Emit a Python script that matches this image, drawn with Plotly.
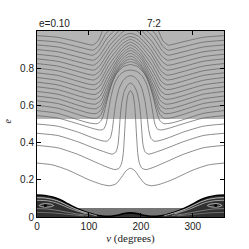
import plotly.graph_objects as go

# ---- axis ticks / annotations ----
nu_ticks = [0, 100, 200, 300]
nu_ticklabels = ["0", "100", "200", "300"]
e_ticks = [0, 0.2, 0.4, 0.6, 0.8]
e_ticklabels = ["0", "0.2", "0.4", "0.6", "0.8"]
label_ecc = "e=0.10"
label_res = "7:2"

# ---- shaded bands (eccentricity limits) ----
e_crossing = 0.527   # orbit-crossing limit (light band above)
e_lowband = 0.048    # low-e band (dark band below)

# ---- contour levels: half curves nu in [0,180] (symmetric about 180) ----
L1_nu = [0, 30, 60, 100, 125, 140, 152, 163, 172, 180]
L1_e = [0.29, 0.28, 0.252, 0.2, 0.175, 0.168, 0.178, 0.215, 0.25, 0.262]

L2_nu = [0, 40, 80, 110, 135, 150, 158, 163, 166, 168, 170, 172, 175, 180]
L2_e = [0.385, 0.372, 0.335, 0.298, 0.268, 0.255, 0.262, 0.29, 0.34, 0.42, 0.52, 0.6, 0.655, 0.68]

L3_nu = [0, 40, 80, 110, 132, 145, 152, 156, 158, 160, 163, 168, 174, 180]
L3_e = [0.45, 0.438, 0.403, 0.37, 0.348, 0.338, 0.35, 0.39, 0.45, 0.53, 0.61, 0.675, 0.708, 0.72]

L4_nu = [0, 40, 80, 105, 125, 135, 141, 145, 148, 152, 158, 166, 174, 180]
L4_e = [0.50, 0.488, 0.455, 0.428, 0.41, 0.408, 0.425, 0.47, 0.54, 0.62, 0.69, 0.735, 0.755, 0.76]

L5_nu = [0, 40, 80, 105, 120, 128, 133, 137, 142, 149, 158, 168, 180]
L5_e = [0.545, 0.532, 0.50, 0.478, 0.468, 0.472, 0.50, 0.56, 0.64, 0.715, 0.76, 0.783, 0.79]

L6_nu = [0, 40, 80, 100, 116, 124, 130, 136, 143, 153, 166, 180]
L6_e = [0.572, 0.557, 0.522, 0.506, 0.502, 0.52, 0.57, 0.64, 0.71, 0.77, 0.808, 0.82]

L7_nu = [0, 40, 80, 100, 115, 123, 131, 139, 147, 157, 169, 180]
L7_e = [0.600, 0.585, 0.550, 0.534, 0.531, 0.55, 0.605, 0.675, 0.74, 0.79, 0.825, 0.835]

L8_nu = [0, 40, 80, 100, 114, 123, 132, 141, 150, 160, 171, 180]
L8_e = [0.625, 0.610, 0.575, 0.559, 0.556, 0.575, 0.635, 0.705, 0.765, 0.81, 0.84, 0.85]

L9_nu = [0, 40, 80, 100, 113, 123, 133, 143, 153, 163, 173, 180]
L9_e = [0.650, 0.635, 0.600, 0.585, 0.582, 0.60, 0.665, 0.735, 0.79, 0.83, 0.857, 0.865]

L10_nu = [0, 40, 80, 100, 113, 123, 134, 145, 155, 165, 174, 180]
L10_e = [0.675, 0.660, 0.626, 0.610, 0.607, 0.627, 0.695, 0.762, 0.815, 0.852, 0.873, 0.88]

L11_nu = [0, 40, 80, 100, 112, 122, 135, 147, 157, 167, 175, 180]
L11_e = [0.70, 0.685, 0.651, 0.636, 0.633, 0.652, 0.725, 0.79, 0.84, 0.873, 0.89, 0.895]

L12_nu = [0, 40, 80, 100, 112, 122, 136, 149, 159, 169, 176, 180]
L12_e = [0.725, 0.710, 0.677, 0.662, 0.659, 0.678, 0.755, 0.818, 0.862, 0.892, 0.905, 0.91]

L13_nu = [0, 40, 80, 100, 111, 121, 137, 151, 161, 170, 177, 180]
L13_e = [0.75, 0.735, 0.703, 0.688, 0.685, 0.704, 0.785, 0.845, 0.885, 0.91, 0.922, 0.925]

L14_nu = [0, 40, 80, 100, 111, 121, 138, 152, 162, 171, 180]
L14_e = [0.775, 0.761, 0.729, 0.714, 0.711, 0.73, 0.815, 0.87, 0.905, 0.928, 0.94]

L15_nu = [0, 40, 80, 100, 110, 120, 139, 153, 163, 172, 180]
L15_e = [0.80, 0.786, 0.755, 0.740, 0.737, 0.756, 0.845, 0.895, 0.928, 0.946, 0.955]

L16_nu = [0, 40, 80, 100, 110, 120, 140, 154, 164, 173, 180]
L16_e = [0.825, 0.811, 0.781, 0.766, 0.763, 0.782, 0.873, 0.92, 0.95, 0.965, 0.97]

L17_nu = [0, 40, 80, 100, 110, 120, 141, 155, 165, 174, 180]
L17_e = [0.85, 0.837, 0.807, 0.793, 0.79, 0.81, 0.90, 0.945, 0.972, 0.984, 0.987]

L18_nu = [0, 40, 80, 100, 109, 119, 141, 154, 163, 168]
L18_e = [0.875, 0.862, 0.833, 0.819, 0.816, 0.836, 0.925, 0.965, 0.99, 1.0]

L19_nu = [0, 40, 80, 100, 109, 119, 139, 150, 157]
L19_e = [0.90, 0.888, 0.86, 0.846, 0.843, 0.863, 0.945, 0.978, 1.0]

L20_nu = [0, 40, 80, 100, 108, 118, 135, 144, 148]
L20_e = [0.925, 0.914, 0.887, 0.873, 0.87, 0.89, 0.962, 0.99, 1.0]

L21_nu = [0, 40, 80, 100, 108, 118, 131, 137]
L21_e = [0.95, 0.94, 0.914, 0.90, 0.897, 0.918, 0.98, 1.0]

L22_nu = [0, 40, 80, 100, 107, 117, 126]
L22_e = [0.975, 0.966, 0.941, 0.927, 0.924, 0.945, 1.0]

# ---- low-eccentricity structure (bottom) ----
bot_nu = [0, 15, 30, 45, 60, 70, 85, 100, 115, 130, 142, 155, 167, 180]
bot_e = [0.118, 0.116, 0.108, 0.093, 0.07, 0.055, 0.037, 0.021, 0.009, 0.004, 0.004, 0.009, 0.018, 0.022]

W1_nu = [0, 15, 30, 45, 60, 75, 90, 105, 115]
W1_e = [0.104, 0.102, 0.095, 0.081, 0.061, 0.042, 0.027, 0.014, 0.007]
W2_nu = [0, 20, 35, 50, 65, 80, 95]
W2_e = [0.09, 0.087, 0.078, 0.062, 0.044, 0.03, 0.017]
W3_nu = [0, 20, 40, 60, 80, 100]
W3_e = [0.045, 0.043, 0.035, 0.025, 0.015, 0.008]
W4_nu = [0, 30, 60, 90]
W4_e = [0.025, 0.022, 0.014, 0.006]
eye_nu = [4, 10, 18, 28, 32, 28, 18, 10, 4]
eye_e = [0.062, 0.07, 0.072, 0.068, 0.062, 0.056, 0.053, 0.055, 0.062]
eye_c_nu = [16]
eye_c_e = [0.062]

levels = [(L1_nu, L1_e), (L2_nu, L2_e), (L3_nu, L3_e), (L4_nu, L4_e), (L5_nu, L5_e),
          (L6_nu, L6_e), (L7_nu, L7_e), (L8_nu, L8_e), (L9_nu, L9_e), (L10_nu, L10_e),
          (L11_nu, L11_e), (L12_nu, L12_e), (L13_nu, L13_e), (L14_nu, L14_e),
          (L15_nu, L15_e), (L16_nu, L16_e), (L17_nu, L17_e), (L18_nu, L18_e),
          (L19_nu, L19_e), (L20_nu, L20_e), (L21_nu, L21_e), (L22_nu, L22_e)]


def mirror(nu, e):
    """Reflect a half curve about nu=180."""
    if nu[-1] >= 180:
        return (nu + [360 - v for v in reversed(nu[:-1])],
                e + list(reversed(e[:-1])))
    return (nu + [None] + [360 - v for v in reversed(nu)],
            e + [None] + list(reversed(e)))


def split_mirror(nu, e):
    """Left piece and its reflection as separate pieces."""
    return (nu + [None] + [360 - v for v in nu], e + [None] + list(e))


fig = go.Figure()

# bottom dark structure
bx, by = mirror(bot_nu, bot_e)
fig.add_trace(go.Scatter(x=bx, y=by, mode="lines", fill="tozeroy",
                         fillcolor="#303030",
                         line=dict(color="black", width=1.6, shape="spline", smoothing=0.6),
                         hoverinfo="skip"))
for wn, we, col in [(W1_nu, W1_e, "rgba(255,255,255,0.85)"),
                    (W2_nu, W2_e, "rgba(255,255,255,0.7)"),
                    (W3_nu, W3_e, "rgba(170,170,170,0.8)"),
                    (W4_nu, W4_e, "rgba(150,150,150,0.8)")]:
    xx, yy = split_mirror(wn, we)
    fig.add_trace(go.Scatter(x=xx, y=yy, mode="lines",
                             line=dict(color=col, width=0.8, shape="spline", smoothing=0.6),
                             hoverinfo="skip"))
ex, ey = split_mirror(eye_nu, eye_e)
fig.add_trace(go.Scatter(x=ex, y=ey, mode="lines",
                         line=dict(color="rgba(230,230,230,0.9)", width=0.8, shape="spline", smoothing=0.8),
                         hoverinfo="skip"))
cx, cy = split_mirror(eye_c_nu, eye_c_e)
fig.add_trace(go.Scatter(x=cx, y=cy, mode="markers",
                         marker=dict(color="black", size=3), hoverinfo="skip"))

# contour levels
for nu, e in levels:
    xx, yy = mirror(nu, e)
    fig.add_trace(go.Scatter(x=xx, y=yy, mode="lines",
                             line=dict(color="#646464", width=0.75, shape="spline", smoothing=0.6),
                             hoverinfo="skip"))

fig.update_layout(
    width=249, height=249,
    margin=dict(l=37, r=25, t=31, b=32, autoexpand=False),
    paper_bgcolor="white", plot_bgcolor="white",
    showlegend=False,
    font=dict(family="Liberation Sans, Arial, sans-serif", size=10, color="#222"),
    shapes=[
        dict(type="rect", xref="x", yref="y", x0=0, x1=360, y0=e_crossing, y1=1.0,
             fillcolor="#b4b4b4", line=dict(width=0), layer="below"),
        dict(type="rect", xref="x", yref="y", x0=0, x1=360, y0=0, y1=e_lowband,
             fillcolor="#767676", line=dict(width=0), layer="below"),
    ],
    annotations=[
        dict(text=label_ecc, xref="paper", yref="paper", x=0.0, y=1.0,
             xanchor="left", yanchor="bottom", showarrow=False,
             font=dict(size=10, color="#222")),
        dict(text=label_res, xref="paper", yref="paper", x=0.628, y=1.0,
             xanchor="center", yanchor="bottom", showarrow=False,
             font=dict(size=10, color="#222")),
        dict(text="<i>e</i>", xref="paper", yref="paper", x=-0.155, y=0.513,
             xanchor="center", yanchor="middle", textangle=-90, showarrow=False,
             font=dict(family="Liberation Serif, serif", size=10, color="#222")),
    ],
)
fig.update_xaxes(range=[0, 360], tickvals=nu_ticks, ticktext=nu_ticklabels,
                 showgrid=False, zeroline=False, showline=True, mirror="ticks",
                 linecolor="black", linewidth=1, ticks="inside", ticklen=4,
                 tickcolor="black", automargin=False,
                 title=dict(text="<i>ν</i> (degrees)", standoff=2,
                            font=dict(family="Liberation Serif, serif", size=11, color="#222")))
fig.update_yaxes(range=[0, 1.0], tickvals=e_ticks, ticktext=e_ticklabels,
                 showgrid=False, zeroline=False, showline=True, mirror="ticks",
                 linecolor="black", linewidth=1, ticks="inside", ticklen=4,
                 tickcolor="black", automargin=False)

fig.write_html("out.html", config={"displayModeBar": False},
               post_script="document.body.style.margin='0';document.body.style.padding='0';")
